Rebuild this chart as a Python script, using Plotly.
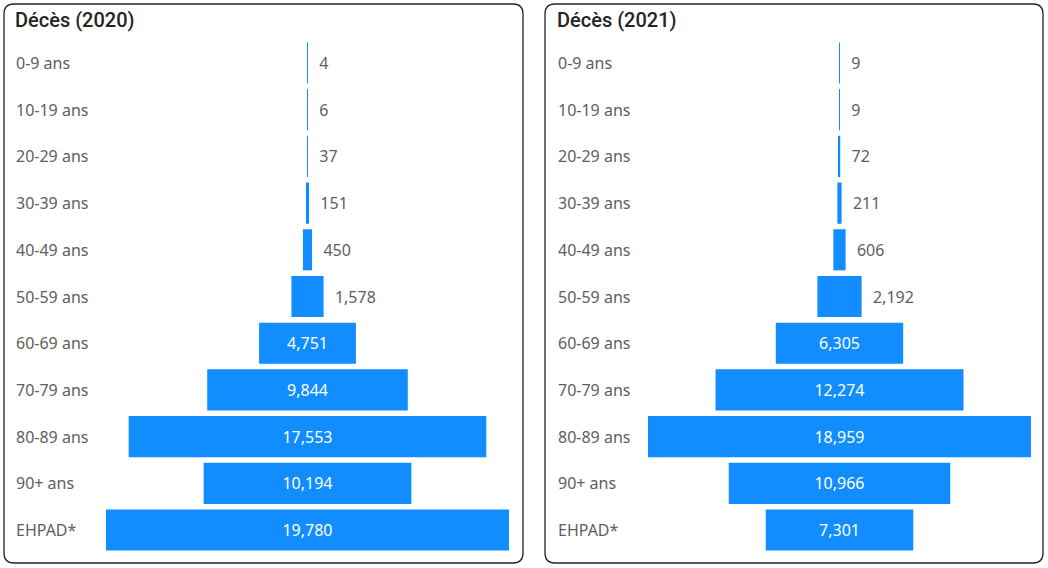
import plotly.graph_objects as go

# Age groups (top to bottom)
categories = ['0-9 ans', '10-19 ans', '20-29 ans', '30-39 ans', '40-49 ans', '50-59 ans',
              '60-69 ans', '70-79 ans', '80-89 ans', '90+ ans', 'EHPAD*']

deces_2020 = [4, 6, 37, 151, 450, 1578, 4751, 9844, 17553, 10194, 19780]
deces_2021 = [9, 9, 72, 211, 606, 2192, 6305, 12274, 18959, 10966, 7301]

titles = ['Décès (2020)', 'Décès (2021)']

W, H = 1048, 568
BLUE = '#118DFF'
GREY = '#605E5C'


def px(x):
    return x / W


def py(y):
    return 1 - y / H


def rounded_box(x0, y0, x1, y1, r=10):
    # rounded rectangle in paper coordinates, given pixel corners
    rx, ry = r / W, r / H
    a, b, c, d = px(x0), py(y0), px(x1), py(y1)
    return (f'M {a + rx},{b} L {c - rx},{b} Q {c},{b} {c},{b - ry} '
            f'L {c},{d + ry} Q {c},{d} {c - rx},{d} '
            f'L {a + rx},{d} Q {a},{d} {a},{d + ry} '
            f'L {a},{b - ry} Q {a},{b} {a + rx},{b} Z')


fig = go.Figure()

panels = [
    dict(values=deces_2020, xa='x', ya='y', dom=(106, 509), left=14, box=(4, 4, 523, 563)),
    dict(values=deces_2021, xa='x2', ya='y2', dom=(648, 1031), left=556, box=(545, 4, 1043, 563)),
]

shapes = []
annotations = []
for n, p in enumerate(panels):
    vals = p['values']
    span = p['dom'][1] - p['dom'][0]
    # label goes outside when the bar is too narrow for it
    positions, templates = [], []
    for v in vals:
        bar_px = v / max(vals) * span
        text_px = len(f'{v:,}') * 9 + 12
        if bar_px > text_px:
            positions.append('inside')
            templates.append('%{value:,}')
        else:
            positions.append('outside')
            templates.append('\u00a0\u00a0%{value:,}')

    fig.add_trace(go.Funnel(
        y=categories,
        x=vals,
        xaxis=p['xa'],
        yaxis=p['ya'],
        marker=dict(color=BLUE, line=dict(width=0, color='#D6E9FB')),
        connector=dict(visible=False),
        texttemplate=templates,
        textposition=positions,
        textangle=0,
        constraintext='none',
        insidetextfont=dict(color='white', size=16, family='Noto Sans'),
        outsidetextfont=dict(color=GREY, size=16, family='Noto Sans'),
        hoverinfo='y+x',
        showlegend=False,
    ))

    half = max(vals) / 2
    suffix = '' if n == 0 else '2'
    fig.update_layout(**{
        'xaxis' + suffix: dict(domain=[px(p['dom'][0]), px(p['dom'][1])], range=[-half, half],
                               visible=False, fixedrange=True, anchor=p['ya']),
        'yaxis' + suffix: dict(domain=[py(553.4), py(39.6)], showticklabels=False,
                               showgrid=False, zeroline=False, fixedrange=True,
                               anchor=p['xa']),
    })

    shapes.append(dict(type='path', xref='paper', yref='paper', path=rounded_box(*p['box']),
                       line=dict(color='#252423', width=1.3), fillcolor='rgba(0,0,0,0)'))

    annotations.append(dict(text=titles[n], xref='paper', yref='paper', x=px(p['left'] - 1),
                            y=py(20), xanchor='left', yanchor='middle', showarrow=False,
                            font=dict(size=20, color='#252423', family='Roboto', weight=500)))
    for cat in categories:
        annotations.append(dict(text=cat, xref='paper', yref=p['ya'], x=px(p['left']), y=cat,
                                xanchor='left', yanchor='middle', showarrow=False,
                                font=dict(size=16, color=GREY, family='Noto Sans')))

fig.update_layout(
    width=W,
    height=H,
    margin=dict(l=0, r=0, t=0, b=0),
    paper_bgcolor='white',
    plot_bgcolor='white',
    funnelgap=0.12,
    shapes=shapes,
    annotations=annotations,
    font=dict(family='Noto Sans', color=GREY),
)

# drop the default 8px body margin so the figure fills the window exactly
fig.write_html('out.html', config={'displayModeBar': False},
               post_script="document.body.style.margin = '0';")
